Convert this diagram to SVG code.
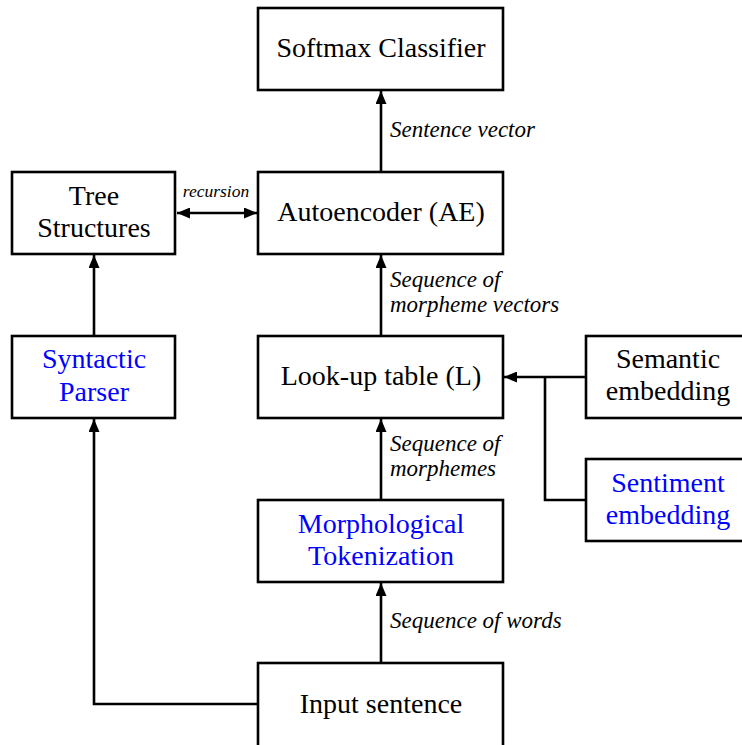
<svg xmlns="http://www.w3.org/2000/svg" width="742" height="745" viewBox="0 0 742 745">
  <style>
    .box { fill: #ffffff; stroke: #000000; stroke-width: 2.6; }
    .lbl { font-family: "Liberation Serif", "DejaVu Serif", serif; font-size: 28px; fill: #000000; text-anchor: middle; }
    .blue { fill: #0000ff; }
    .edge { font-family: "Liberation Serif", "DejaVu Serif", serif; font-style: italic; font-size: 23px; fill: #000000; }
    .small { font-size: 17.5px; }
    .wire { fill: none; stroke: #000000; stroke-width: 2.6; }
  </style>
  <defs>
    <marker id="arrow" viewBox="0 0 13 11" refX="13" refY="5.5" markerWidth="13" markerHeight="11" markerUnits="userSpaceOnUse" orient="auto-start-reverse">
      <path d="M0,0 L13,5.5 L0,11 Z" fill="#000000"/>
    </marker>
  </defs>

  <g id="connectors">
    <line class="wire" x1="381" y1="172" x2="381" y2="91" marker-end="url(#arrow)"/>
    <line class="wire" x1="381" y1="336" x2="381" y2="255" marker-end="url(#arrow)"/>
    <line class="wire" x1="381" y1="500" x2="381" y2="419" marker-end="url(#arrow)"/>
    <line class="wire" x1="381" y1="663" x2="381" y2="583" marker-end="url(#arrow)"/>
    <line class="wire" x1="177" y1="213" x2="257" y2="213" marker-start="url(#arrow)" marker-end="url(#arrow)"/>
    <line class="wire" x1="94" y1="336" x2="94" y2="255" marker-end="url(#arrow)"/>
    <polyline class="wire" points="258,704 94,704 94,419" marker-end="url(#arrow)"/>
    <line class="wire" x1="586" y1="377" x2="504" y2="377" marker-end="url(#arrow)"/>
    <polyline class="wire" points="586,500 545,500 545,377"/>
    <text class="edge small" x="216" y="197" text-anchor="middle">recursion</text>
    <text class="edge" x="390" y="137">Sentence vector</text>
    <text class="edge" x="390" y="287">Sequence of</text>
    <text class="edge" x="390" y="312">morpheme vectors</text>
    <text class="edge" x="390" y="451">Sequence of</text>
    <text class="edge" x="390" y="476">morphemes</text>
    <text class="edge" x="390" y="628">Sequence of words</text>
  </g>

  <g id="softmax">
    <rect class="box" x="258" y="8" width="245" height="82"/>
    <text class="lbl" x="381" y="57">Softmax Classifier</text>
  </g>
  <g id="tree">
    <rect class="box" x="12" y="172" width="163" height="82"/>
    <text class="lbl" x="94" y="205">Tree</text>
    <text class="lbl" x="94" y="237">Structures</text>
  </g>
  <g id="autoencoder">
    <rect class="box" x="258" y="172" width="245" height="82"/>
    <text class="lbl" x="381" y="221">Autoencoder (AE)</text>
  </g>
  <g id="parser">
    <rect class="box" x="12" y="336" width="163" height="82"/>
    <text class="lbl blue" x="94" y="368">Syntactic</text>
    <text class="lbl blue" x="94" y="401">Parser</text>
  </g>
  <g id="lookup">
    <rect class="box" x="258" y="336" width="245" height="82"/>
    <text class="lbl" x="381" y="385">Look-up table (L)</text>
  </g>
  <g id="semantic">
    <rect class="box" x="586" y="336" width="170" height="82"/>
    <text class="lbl" x="668" y="368">Semantic</text>
    <text class="lbl" x="668" y="400">embedding</text>
  </g>
  <g id="sentiment">
    <rect class="box" x="586" y="459" width="170" height="82"/>
    <text class="lbl blue" x="668" y="492">Sentiment</text>
    <text class="lbl blue" x="668" y="524">embedding</text>
  </g>
  <g id="tokenization">
    <rect class="box" x="258" y="500" width="245" height="82"/>
    <text class="lbl blue" x="381" y="533">Morphological</text>
    <text class="lbl blue" x="381" y="565">Tokenization</text>
  </g>
  <g id="input">
    <rect class="box" x="258" y="663" width="245" height="95"/>
    <text class="lbl" x="381" y="713">Input sentence</text>
  </g>
</svg>
